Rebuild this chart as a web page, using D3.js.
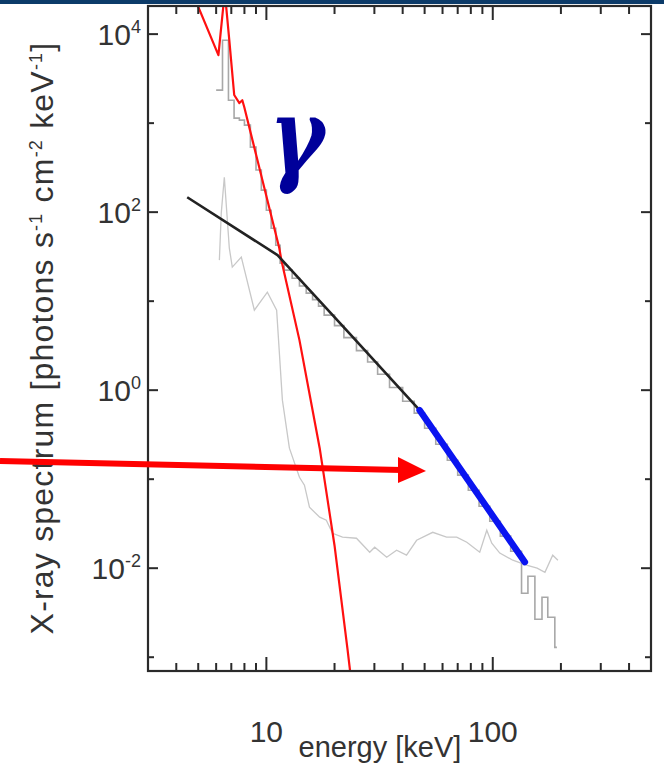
<!DOCTYPE html>
<html><head><meta charset="utf-8">
<script src="https://cdn.jsdelivr.net/npm/d3@7/dist/d3.min.js"></script>
<style>body{margin:0;background:#fff}svg{display:block}</style>
</head><body>
<svg id="c" width="664" height="763"></svg>
<script>
// ---- data ----
const xMajorTicks = [10, 100];
const xMinorTicks = [4, 5, 6, 7, 8, 9, 20, 30, 40, 50, 60, 70, 80, 90, 200, 300, 400];
const xTickLabels = ["10", "100"];
const yMajorTicks = [1e4, 1e2, 1, 1e-2];
const yTickExponents = ["4", "2", "0", "-2"];
const yMinorTicks = [1e3, 1e1, 1e-1, 1e-3];

// thermal model (red)
const thermalE = [4.9, 6.14, 6.55, 6.86, 7.21, 7.6, 7.83, 7.99, 11.4, 11.65, 14.0, 17.2, 20.0, 22.8, 23.6];
const thermalF = [23000, 5800, 30000, 8500, 2070, 1680, 1810, 1510, 39.5, 28.9, 3.65, 0.223, 0.018, 0.00126, 0.0006];

// non-thermal model (black)
const nonthermalE = [4.47, 11.2, 23.0, 47.5];
const nonthermalF = [147, 32.9, 4.49, 0.596];

// power-law highlight (blue)
const powerE = [47.5, 138.6];
const powerF = [0.596, 0.0117];

// background (thin light gray)
const bgE = [6.2, 6.32, 6.52, 6.86, 7.07, 7.75, 8.85, 10.1, 11.1, 11.77, 12.64, 14.0, 14.73, 15.5, 17.2, 18.4, 19.6, 21.7, 25.0, 28.6, 30.1, 34.0, 37.6, 41.6, 46.1, 54.3, 62.5, 69.3, 76.8, 87.6, 94.1, 99, 107.4, 122.6, 141, 157, 170, 184, 194];
const bgF = [28.9, 97.5, 247, 39.5, 24.1, 31.2, 7.93, 12.6, 7.93, 0.773, 0.223, 0.105, 0.0857, 0.0484, 0.0374, 0.0346, 0.0247, 0.0223, 0.0217, 0.0151, 0.0172, 0.0133, 0.0159, 0.014, 0.0206, 0.0253, 0.0223, 0.0223, 0.0196, 0.0151, 0.0267, 0.0191, 0.0148, 0.0123, 0.0108, 0.0100, 0.0090, 0.014, 0.0123];

// observed spectrum histogram (gray steps)
const histEdges = [6.0, 6.4, 6.8, 7.2, 7.6, 8.0, 8.5, 9, 9.5, 10, 10.5, 11, 11.5, 12, 13, 14, 15, 16, 17, 18, 20, 22, 25, 28, 31, 35, 40, 45, 50, 56, 63, 70, 78, 87, 97, 108, 120, 134, 143, 153.5, 165, 175, 188, 192];
const histVals = [2350, 8540, 1810, 1137, 1080, 950, 537, 297, 177, 105, 66, 42.5, 26.7, 22.3, 18.1, 14.8, 12.3, 10.4, 8.8, 6.97, 5.31, 3.89, 2.78, 2.07, 1.51, 1.07, 0.752, 0.552, 0.374, 0.247, 0.163, 0.111, 0.075, 0.0497, 0.0337, 0.0229, 0.0155, 0.00524, 0.00813, 0.00267, 0.00472, 0.00281, 0.00129];

// ---- layout ----
const L = 148, R = 651, T = 6, B = 671;
const svg = d3.select("#c");
const x = d3.scaleLog().domain([3, 500]).range([L, R]);
const y = d3.scaleLog().domain([7e-4, 2.07e4]).range([B, T]);

// top banner
svg.append("rect").attr("x", 0).attr("y", 0).attr("width", 664).attr("height", 4).attr("fill", "#0c3b69");

svg.append("defs").append("clipPath").attr("id", "plot")
  .append("rect").attr("x", L).attr("y", T).attr("width", R - L).attr("height", B - T);
const g = svg.append("g").attr("clip-path", "url(#plot)");

const line = d3.line().x(d => x(d[0])).y(d => y(d[1]));
const zip = (a, b) => a.map((v, i) => [v, b[i]]);

g.append("path").datum(zip(bgE, bgF)).attr("d", line)
  .attr("fill", "none").attr("stroke", "#c8c8c8").attr("stroke-width", 1.3);

const histPts = [];
histVals.forEach((v, i) => { histPts.push([histEdges[i], v]); histPts.push([histEdges[i + 1], v]); });
g.append("path").datum(histPts).attr("d", line)
  .attr("fill", "none").attr("stroke", "#a8a8a8").attr("stroke-width", 1.6);

g.append("path").datum(zip(thermalE, thermalF)).attr("d", line)
  .attr("fill", "none").attr("stroke", "#ff1010").attr("stroke-width", 2.2).attr("stroke-linejoin", "round");

g.append("path").datum(zip(nonthermalE, nonthermalF)).attr("d", line)
  .attr("fill", "none").attr("stroke", "#222").attr("stroke-width", 2.6).attr("stroke-linejoin", "round");

g.append("path").datum(zip(powerE, powerF)).attr("d", line)
  .attr("fill", "none").attr("stroke", "#0a14f0").attr("stroke-width", 6.5).attr("stroke-linecap", "round");

// frame
svg.append("rect").attr("x", L).attr("y", T).attr("width", R - L).attr("height", B - T)
  .attr("fill", "none").attr("stroke", "#2a2a2a").attr("stroke-width", 2.2);

const tk = svg.append("g").attr("stroke", "#2a2a2a").attr("stroke-width", 2);
xMajorTicks.forEach(v => {
  tk.append("line").attr("x1", x(v)).attr("x2", x(v)).attr("y1", B).attr("y2", B - 14);
  tk.append("line").attr("x1", x(v)).attr("x2", x(v)).attr("y1", T).attr("y2", T + 14);
});
xMinorTicks.forEach(v => {
  tk.append("line").attr("x1", x(v)).attr("x2", x(v)).attr("y1", B).attr("y2", B - 8);
  tk.append("line").attr("x1", x(v)).attr("x2", x(v)).attr("y1", T).attr("y2", T + 8);
});
yMajorTicks.forEach(v => {
  tk.append("line").attr("x1", L).attr("x2", L + 10).attr("y1", y(v)).attr("y2", y(v));
  tk.append("line").attr("x1", R).attr("x2", R - 10).attr("y1", y(v)).attr("y2", y(v));
});
yMinorTicks.forEach(v => {
  tk.append("line").attr("x1", L).attr("x2", L + 6).attr("y1", y(v)).attr("y2", y(v));
  tk.append("line").attr("x1", R).attr("x2", R - 6).attr("y1", y(v)).attr("y2", y(v));
});

const font = "'Liberation Sans', Arial, sans-serif";
const txtColor = "#333";
xMajorTicks.forEach((v, i) => {
  svg.append("text").attr("x", x(v)).attr("y", 742).attr("text-anchor", "middle")
    .attr("font-family", font).attr("font-size", 30).attr("fill", txtColor).text(xTickLabels[i]);
});
yMajorTicks.forEach((v, i) => {
  const t = svg.append("text").attr("x", 141).attr("y", y(v) + 11).attr("text-anchor", "end")
    .attr("font-family", font).attr("font-size", 30).attr("fill", txtColor);
  t.append("tspan").text("10");
  t.append("tspan").attr("dy", -12).attr("font-size", 18).text(yTickExponents[i]);
});

svg.append("text").attr("x", 380).attr("y", 757).attr("text-anchor", "middle")
  .attr("font-family", font).attr("font-size", 29).attr("fill", txtColor).text("energy [keV]");

const yt = svg.append("text").attr("transform", "translate(53,338) rotate(-90)").attr("text-anchor", "middle")
  .attr("font-family", font).attr("font-size", 32).attr("letter-spacing", 1.2).attr("fill", txtColor);
yt.append("tspan").text("X-ray spectrum [photons s");
yt.append("tspan").attr("dy", -11).attr("font-size", 18).text("-1");
yt.append("tspan").attr("dy", 11).text(" cm");
yt.append("tspan").attr("dy", -11).attr("font-size", 18).text("-2");
yt.append("tspan").attr("dy", 11).text(" keV");
yt.append("tspan").attr("dy", -11).attr("font-size", 18).text("-1");
yt.append("tspan").attr("dy", 11).text("]");

// gamma
svg.append("text").attr("transform", "translate(297,172) scale(0.8,1)").attr("text-anchor", "middle")
  .attr("font-family", "'DejaVu Serif', 'Liberation Serif', serif").attr("font-weight", "bold").attr("font-style", "italic")
  .attr("font-size", 104).attr("fill", "#00009a").text("γ");

// arrow
svg.append("line").attr("x1", 0).attr("y1", 461).attr("x2", 402).attr("y2", 470)
  .attr("stroke", "#ff0000").attr("stroke-width", 6);
svg.append("path").attr("d", "M398,457 L426,471 L398,483 Z").attr("fill", "#ff0000");
</script>
</body></html>
